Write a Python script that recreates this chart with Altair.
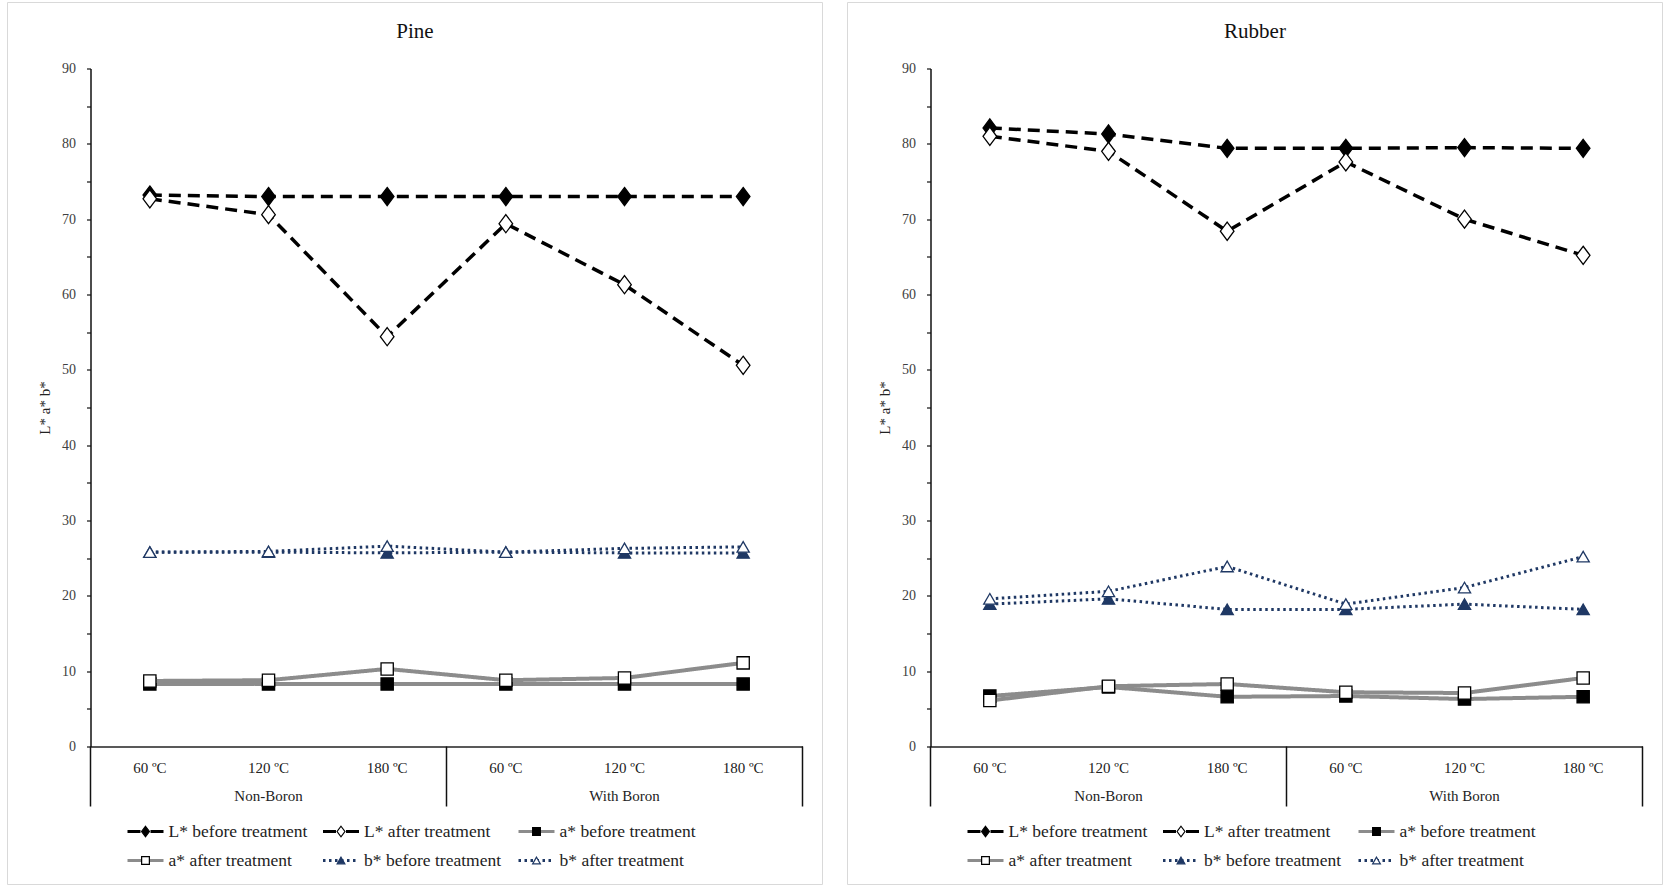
import altair as alt
import pandas as pd

# ---------------- data ----------------
cat_keys = ["NB-60", "NB-120", "NB-180", "WB-60", "WB-120", "WB-180"]
categories = ["60 ºC", "120 ºC", "180 ºC", "60 ºC", "120 ºC", "180 ºC"]
groups = ["Non-Boron", "Non-Boron", "Non-Boron", "With Boron", "With Boron", "With Boron"]
series_names = ["L* before treatment", "L* after treatment", "a* before treatment",
                "a* after treatment", "b* before treatment", "b* after treatment"]
legend_col = [0, 1, 2, 0, 1, 2]
legend_row = [0, 0, 0, 1, 1, 1]

pine_L_before = [73.2, 73.0, 73.0, 73.0, 73.0, 73.0]
pine_L_after = [72.7, 70.6, 54.4, 69.4, 61.3, 50.6]
pine_a_before = [8.3, 8.3, 8.3, 8.3, 8.3, 8.3]
pine_a_after = [8.7, 8.8, 10.3, 8.8, 9.1, 11.1]
pine_b_before = [25.8, 25.8, 25.7, 25.8, 25.7, 25.7]
pine_b_after = [25.8, 25.9, 26.6, 25.8, 26.3, 26.5]

rubber_L_before = [82.1, 81.3, 79.4, 79.4, 79.5, 79.4]
rubber_L_after = [81.0, 79.0, 68.4, 77.6, 70.0, 65.2]
rubber_a_before = [6.7, 7.9, 6.6, 6.7, 6.3, 6.6]
rubber_a_after = [6.1, 8.0, 8.3, 7.2, 7.1, 9.1]
rubber_b_before = [18.9, 19.6, 18.2, 18.2, 18.9, 18.2]
rubber_b_after = [19.6, 20.6, 23.9, 18.9, 21.1, 25.2]

pine_vals = [pine_L_before, pine_L_after, pine_a_before, pine_a_after, pine_b_before, pine_b_after]
rubber_vals = [rubber_L_before, rubber_L_after, rubber_a_before, rubber_a_after, rubber_b_before, rubber_b_after]

# ---------------- styles ----------------
FONT = "Liberation Serif"
NAVY = "#1f3864"
GRAY = "#8c8c8c"
DIAMOND = "M0,-1L0.75,0L0,1L-0.75,0Z"
styles = [
    dict(color="black", dash=[12, 7], ldash=[13, 10, 13], width=3.5, shape=DIAMOND, size=330,
         fill="black", stroke="black", lsize=110),
    dict(color="black", dash=[12, 7], ldash=[13, 10, 13], width=3.5, shape=DIAMOND, size=330,
         fill="white", stroke="black", lsize=110),
    dict(color=GRAY, dash=[1, 0], ldash=[1, 0], width=4, shape="square", size=150,
         fill="black", stroke="black", lsize=60),
    dict(color=GRAY, dash=[1, 0], ldash=[1, 0], width=4, shape="square", size=150,
         fill="white", stroke="black", lsize=60),
    dict(color=NAVY, dash=[2.5, 3.5], ldash=[2.5, 3.5], width=3, shape="triangle-up", size=150,
         fill=NAVY, stroke=NAVY, lsize=60),
    dict(color=NAVY, dash=[2.5, 3.5], ldash=[2.5, 3.5], width=3, shape="triangle-up", size=150,
         fill="white", stroke=NAVY, lsize=60),
]

W, H = 712, 678


def panel(title, vals):
    rows = []
    for s, v in zip(series_names, vals):
        for k, val in zip(cat_keys, v):
            rows.append({"series": s, "cat": k, "value": val})
    df = pd.DataFrame(rows)

    x = alt.X("cat:N", sort=cat_keys,
              scale=alt.Scale(type="band", domain=cat_keys, paddingInner=0, paddingOuter=0),
              axis=alt.Axis(labels=False, ticks=False, domain=True, domainColor="#222",
                            domainWidth=1.5, title=None, grid=False))
    y = alt.Y("value:Q", scale=alt.Scale(domain=[0, 90], nice=False),
              axis=alt.Axis(values=list(range(0, 91, 5)),
                            labelExpr="datum.value % 10 === 0 ? datum.label : ''",
                            tickSize=4, tickColor="#111", tickWidth=1.2,
                            domainColor="#111", domainWidth=1.5, grid=False,
                            labelFont=FONT, labelFontSize=14, labelColor="#404040", labelPadding=11,
                            title="L* a* b*", titleFont=FONT, titleFontSize=15, titleFontWeight="normal",
                            titleColor="#222", titleX=-46, titleY=H / 2, titleAngle=-90,
                            titleAlign="center", titleBaseline="middle"))

    one = pd.DataFrame({"t": [title]})
    layers = [
        alt.Chart(one).mark_rect(fill="transparent", stroke="#d9d9d9", strokeWidth=1).encode(
            x=alt.value(-83), x2=alt.value(732), y=alt.value(-66), y2=alt.value(816)),
    ]
    for s, st in zip(series_names, styles):
        sub = df[df.series == s]
        layers.append(alt.Chart(sub).mark_line(color=st["color"], strokeDash=st["dash"],
                                               strokeWidth=st["width"], strokeCap="butt").encode(x=x, y=y))
        layers.append(alt.Chart(sub).mark_point(shape=st["shape"], size=st["size"], filled=True,
                                                fill=st["fill"], stroke=st["stroke"], strokeWidth=1.3,
                                                opacity=1, fillOpacity=1).encode(x=x, y=y))

    cat_df = pd.DataFrame({"cat": cat_keys, "label": categories})
    layers.append(alt.Chart(cat_df).mark_text(font=FONT, fontSize=15, color="#222", baseline="middle").encode(
        x=alt.X("cat:N", sort=cat_keys), y=alt.value(H + 21), text="label:N"))

    gk, gl = [], []
    for g in dict.fromkeys(groups):
        idx = [i for i, gg in enumerate(groups) if gg == g]
        gk.append(cat_keys[idx[len(idx) // 2]])
        gl.append(g)
    grp_df = pd.DataFrame({"cat": gk, "label": gl})
    layers.append(alt.Chart(grp_df).mark_text(font=FONT, fontSize=15, color="#222", baseline="middle").encode(
        x=alt.X("cat:N", sort=cat_keys), y=alt.value(H + 49), text="label:N"))

    # separators of the two-level category axis
    first_keys = []
    for g in dict.fromkeys(groups):
        first_keys.append(cat_keys[groups.index(g)])
    sep_df = pd.DataFrame({"cat": first_keys})
    layers.append(alt.Chart(sep_df).mark_rule(color="#111", strokeWidth=1.5).encode(
        x=alt.X("cat:N", sort=cat_keys, bandPosition=0), y=alt.value(H), y2=alt.value(H + 60)))
    end_df = pd.DataFrame({"cat": [cat_keys[-1]]})
    layers.append(alt.Chart(end_df).mark_rule(color="#111", strokeWidth=1.5).encode(
        x=alt.X("cat:N", sort=cat_keys, bandPosition=1), y=alt.value(H), y2=alt.value(H + 60)))

    layers.append(alt.Chart(one).mark_text(font=FONT, fontSize=21, color="#111", baseline="middle").encode(
        x=alt.value(W / 2 - 31.5), y=alt.value(-37), text="t:N"))

    plot = alt.layer(*layers).properties(width=W, height=H)

    # legend
    leg = pd.DataFrame({"series": series_names, "col": legend_col, "row": legend_row})
    lx = alt.X("col:Q", scale=alt.Scale(domain=[0, 2], range=[55, 446]), axis=None)
    ly = alt.Y("row:Q", scale=alt.Scale(domain=[0, 1], range=[0, 29]), axis=None)
    llayers = []
    for s, st in zip(series_names, styles):
        sub = leg[leg.series == s]
        llayers.append(alt.Chart(sub).mark_rule(color=st["color"], strokeDash=st["ldash"],
                                                strokeWidth=3, xOffset=-18, x2Offset=18).encode(
            x=lx, x2="col:Q", y=ly))
        llayers.append(alt.Chart(sub).mark_point(shape=st["shape"], size=st["lsize"], filled=True,
                                                 fill=st["fill"], stroke=st["stroke"], strokeWidth=1.2,
                                                 opacity=1).encode(x=lx, y=ly))
    llayers.append(alt.Chart(leg).mark_text(font=FONT, fontSize=17.5, color="#222", align="left",
                                            baseline="middle", dx=23).encode(x=lx, y=ly, text="series:N"))
    legend = alt.layer(*llayers).properties(width=W, height=29)

    return alt.vconcat(plot, legend, spacing=85, bounds="flush")


chart = alt.hconcat(panel("Pine", pine_vals), panel("Rubber", rubber_vals),
                    spacing=23).properties(
    padding={"left": 6.5, "top": 1.5, "right": 0, "bottom": 0}
).configure_view(stroke=None)

chart.save("out.html", embed_options={"renderer": "svg", "actions": False})
